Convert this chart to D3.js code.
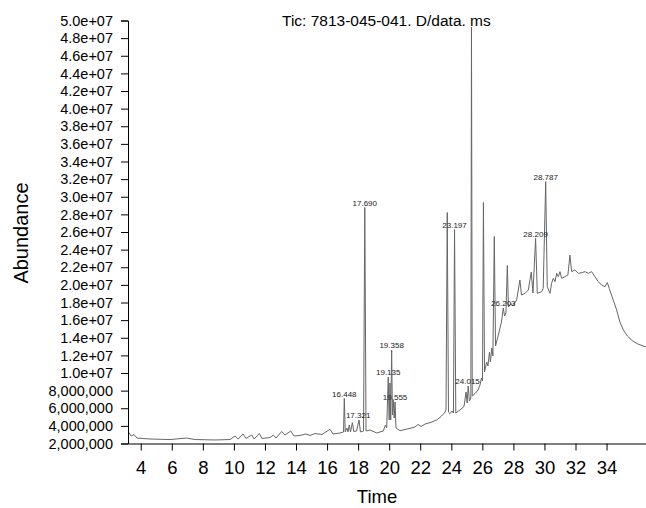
<!DOCTYPE html>
<html>
<head>
<meta charset="utf-8">
<script src="https://cdn.jsdelivr.net/npm/d3@7"></script>
<style>
  body { margin: 0; background: #fff; }
  svg { display: block; font-family: "Liberation Sans", Arial, sans-serif; }
</style>
</head>
<body>
<div id="chart"></div>
<script>
// TIC trace (time on the printed axis, abundance in millions)
const traceTime = [
  3.21, 3.38, 3.57, 3.76, 4.60, 5.89, 6.96, 7.50, 8.78, 9.75,
  10.07, 10.27, 10.59, 10.78, 11.15, 11.30, 11.64, 11.81, 12.33, 12.54,
  12.71, 13.08, 13.29, 13.66, 13.87, 14.26, 14.64, 14.90, 15.22, 15.67,
  16.19, 16.38, 16.83, 17.06, 17.11, 17.17, 17.28, 17.35, 17.43, 17.51,
  17.63, 17.72, 17.90, 18.06, 18.15, 18.35, 18.43, 18.51, 18.77, 19.20,
  19.41, 19.62, 19.76, 19.84, 19.94, 20.00, 20.05, 20.10, 20.16, 20.21,
  20.27, 20.32, 20.38, 20.44, 20.70, 21.02, 21.34, 21.66, 21.86, 22.05,
  22.31, 22.63, 23.06, 23.34, 23.56, 23.66, 23.74, 23.82, 23.92, 24.05,
  24.14, 24.21, 24.29, 24.56, 24.82, 24.95, 25.02, 25.09, 25.17, 25.26,
  25.30, 25.35, 25.53, 25.72, 25.85, 25.94, 26.01, 26.07, 26.14, 26.28,
  26.36, 26.46, 26.52, 26.61, 26.68, 26.77, 26.85, 27.03, 27.23, 27.35,
  27.43, 27.52, 27.61, 27.68, 27.84, 27.97, 28.21, 28.42, 28.52, 28.75,
  28.96, 29.15, 29.26, 29.43, 29.54, 29.82, 29.92, 30.08, 30.18, 30.36,
  30.46, 30.57, 30.68, 30.79, 30.89, 31.00, 31.11, 31.32, 31.51, 31.64,
  31.75, 31.96, 32.18, 32.40, 32.61, 32.82, 33.04, 33.25, 33.47, 33.68,
  33.90, 34.05, 34.17, 34.43, 34.65, 34.86, 35.08, 35.34, 35.64, 36.02,
  36.54
];
const traceAbundance = [
  3.31, 2.85, 3.02, 2.62, 2.51, 2.45, 2.62, 2.45, 2.40, 2.45,
  2.85, 2.51, 3.08, 2.57, 2.96, 2.51, 3.13, 2.57, 2.68, 2.96,
  2.62, 3.36, 2.96, 3.42, 2.85, 2.91, 3.08, 2.91, 3.13, 3.02,
  3.61, 3.08, 3.19, 3.31, 7.11, 3.31, 3.76, 3.31, 4.10, 3.31,
  4.36, 3.36, 3.42, 4.67, 3.31, 3.42, 28.78, 3.42, 3.53, 3.19,
  3.31, 3.42, 4.10, 3.76, 9.55, 4.67, 8.87, 4.67, 12.61, 5.23,
  6.94, 4.89, 6.71, 3.76, 3.45, 3.59, 3.72, 3.87, 4.16, 3.93,
  4.21, 4.36, 4.67, 5.06, 5.46, 5.80, 28.21, 5.57, 5.40, 5.69,
  5.46, 26.28, 5.46, 5.80, 6.20, 7.85, 6.60, 8.53, 6.82, 7.16,
  49.26, 7.39, 7.67, 8.07, 8.64, 9.43, 9.09, 29.35, 10.11, 11.25,
  10.80, 12.38, 11.25, 12.84, 11.93, 25.49, 13.07, 14.31, 15.79, 17.38,
  16.47, 16.81, 22.20, 17.49, 17.89, 17.60, 18.28, 20.55, 18.85, 19.04,
  19.42, 21.46, 19.08, 25.29, 19.04, 19.23, 19.61, 31.71, 19.79, 19.04,
  20.18, 20.75, 20.36, 21.31, 20.93, 21.50, 20.75, 20.93, 21.12, 23.39,
  21.50, 21.69, 21.31, 21.38, 21.50, 21.31, 21.50, 20.93, 20.36, 19.99,
  19.79, 20.27, 19.61, 18.28, 17.15, 15.79, 14.88, 14.20, 13.69, 13.29,
  12.95
];

// peak annotations: printed retention time, and the apex they sit on
const peakLabels = ["16.448", "17.321", "17.690", "19.135", "19.358", "19.555",
  "23.197", "24.015", "26.203", "28.209", "28.787"];
const peakTime = [17.11, 18.00, 18.43, 19.94, 20.16, 20.38, 24.21, 25.05, 27.35, 29.43, 30.08];
const peakAbundance = [7.11, 4.67, 28.78, 9.55, 12.61, 6.71, 26.28, 8.53, 17.38, 25.29, 31.71];

const xTicks = [4, 6, 8, 10, 12, 14, 16, 18, 20, 22, 24, 26, 28, 30, 32, 34];
const yTicks = [2, 4, 6, 8, 10, 12, 14, 16, 18, 20, 22, 24, 26, 28, 30, 32, 34,
  36, 38, 40, 42, 44, 46, 48, 50];
const yTickLabels = ["2,000,000", "4,000,000", "6,000,000", "8,000,000",
  "1.0e+07", "1.2e+07", "1.4e+07", "1.6e+07", "1.8e+07", "2.0e+07", "2.2e+07",
  "2.4e+07", "2.6e+07", "2.8e+07", "3.0e+07", "3.2e+07", "3.4e+07", "3.6e+07",
  "3.8e+07", "4.0e+07", "4.2e+07", "4.4e+07", "4.6e+07", "4.8e+07", "5.0e+07"];
const chartTitle = "Tic: 7813-045-041. D/data. ms";

const width = 646, height = 508;
const plot = {left: 128, right: 646, top: 20.5, bottom: 443.5};

const svg = d3.select("#chart")
    .append("svg")
    .attr("width", width)
    .attr("height", height);

const x = d3.scaleLinear()
    .domain([3.18, 36.54])
    .range([plot.left, plot.right]);

const y = d3.scaleLinear()
    .domain([2, 50])
    .range([plot.bottom, plot.top]);

// Trace
const points = traceTime.map((t, i) => [t, traceAbundance[i]]);
const line = d3.line()
    .x(d => x(d[0]))
    .y(d => y(d[1]));

svg.append("path")
    .datum(points)
    .attr("fill", "none")
    .attr("stroke", "#666")
    .attr("stroke-width", 1)
    .attr("stroke-linejoin", "round")
    .attr("d", line);

// Peak labels
svg.append("g")
    .selectAll("text")
    .data(peakLabels)
    .enter()
    .append("text")
    .attr("x", (d, i) => x(peakTime[i]))
    .attr("y", (d, i) => y(peakAbundance[i]) - 1.5)
    .attr("text-anchor", "middle")
    .attr("font-size", "8px")
    .attr("fill", "#222")
    .text(d => d);

// X axis
const xAxis = svg.append("g")
    .attr("transform", `translate(0,${plot.bottom})`)
    .call(d3.axisBottom(x)
        .tickValues(xTicks)
        .tickFormat(d3.format("d"))
        .tickSize(7)
        .tickSizeOuter(0)
        .tickPadding(10));
xAxis.selectAll("text").attr("font-size", "18.5px").attr("fill", "#000");
xAxis.attr("font-family", null);

// Y axis
const yAxis = svg.append("g")
    .attr("transform", `translate(${plot.left},0)`)
    .call(d3.axisLeft(y)
        .tickValues(yTicks)
        .tickFormat((d, i) => yTickLabels[i])
        .tickSize(7)
        .tickPadding(8));
yAxis.selectAll("text").attr("font-size", "14.5px").attr("fill", "#000");
yAxis.attr("font-family", null);

// Title and axis names
svg.append("text")
    .attr("x", 282)
    .attr("y", 26)
    .attr("font-size", "15.5px")
    .text(chartTitle);

svg.append("text")
    .attr("x", 377)
    .attr("y", 503)
    .attr("text-anchor", "middle")
    .attr("font-size", "18.5px")
    .text("Time");

svg.append("text")
    .attr("transform", "translate(28,233) rotate(-90)")
    .attr("text-anchor", "middle")
    .attr("font-size", "20px")
    .text("Abundance");
</script>
</body>
</html>
